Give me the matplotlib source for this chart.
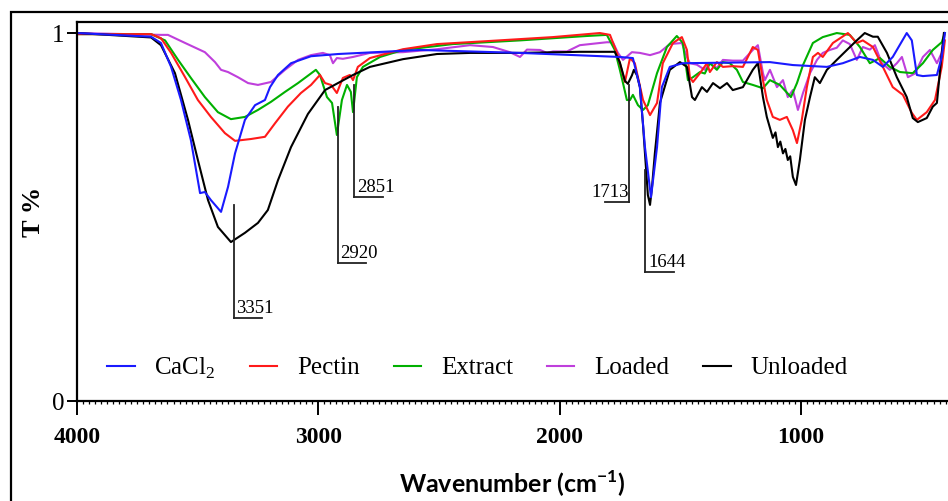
import numpy as np
import matplotlib
matplotlib.use('Agg')
import matplotlib.pyplot as plt
from matplotlib.ticker import MultipleLocator, FixedLocator
from matplotlib.patches import Rectangle

# === FTIR spectra (wavenumber cm-1, transmittance fraction) ===
wn_unloaded = [4000, 3693, 3652, 3594, 3540, 3499, 3457, 3416, 3362, 3304, 3250, 3209, 3167,
               3113, 3043, 2972, 2910, 2856, 2786, 2649, 2508, 2371, 2164, 1916, 1771, 1750,
               1729, 1717, 1700, 1692, 1679, 1667, 1654, 1646, 1634, 1625, 1617, 1605, 1584,
               1543, 1501, 1472, 1451, 1439, 1410, 1389, 1364, 1335, 1306, 1282, 1240, 1199,
               1178, 1157, 1141, 1116, 1105, 1095, 1085, 1074, 1064, 1054, 1044, 1033, 1020,
               1004, 983, 962, 942, 921, 892, 851, 809, 768, 735, 701, 681, 643, 602, 561,
               536, 515, 478, 453, 436, 416, 407]
t_unloaded = [1.0, 0.988, 0.967, 0.891, 0.764, 0.655, 0.546, 0.473, 0.432, 0.457, 0.484, 0.519,
              0.60, 0.69, 0.78, 0.845, 0.867, 0.886, 0.908, 0.929, 0.943, 0.946, 0.946, 0.949,
              0.949, 0.92, 0.87, 0.862, 0.885, 0.90, 0.885, 0.853, 0.75, 0.673, 0.56, 0.533,
              0.58, 0.673, 0.81, 0.90, 0.921, 0.908, 0.826, 0.818, 0.853, 0.84, 0.864, 0.85,
              0.864, 0.845, 0.853, 0.90, 0.918, 0.826, 0.772, 0.715, 0.73, 0.69, 0.705, 0.673,
              0.685, 0.655, 0.665, 0.609, 0.587, 0.655, 0.764, 0.826, 0.88, 0.864, 0.90, 0.927,
              0.954, 0.98, 1.0, 0.99, 0.99, 0.946, 0.88, 0.826, 0.769, 0.758, 0.769, 0.80, 0.81,
              0.946, 1.0]

wn_cacl2 = [4000, 3693, 3652, 3610, 3569, 3528, 3490, 3470, 3445, 3403, 3374, 3345, 3304, 3262,
            3221, 3200, 3167, 3113, 3030, 2918, 2579, 2164, 1750, 1696, 1667, 1646, 1621, 1596,
            1576, 1543, 1489, 1128, 1033, 892, 826, 755, 701, 660, 619, 561, 540, 519, 494,
            436, 416, 403]
t_cacl2 = [1.0, 0.99, 0.973, 0.908, 0.818, 0.709, 0.565, 0.568, 0.546, 0.514, 0.582, 0.673, 0.764,
           0.804, 0.818, 0.853, 0.886, 0.918, 0.937, 0.943, 0.954, 0.946, 0.935, 0.932, 0.853,
           0.69, 0.554, 0.69, 0.853, 0.908, 0.918, 0.921, 0.913, 0.908, 0.918, 0.935, 0.927,
           0.908, 0.935, 1.0, 0.98, 0.886, 0.883, 0.886, 0.935, 1.0]

wn_pectin = [4000, 3693, 3652, 3610, 3552, 3499, 3445, 3387, 3345, 3279, 3221, 3179, 3126, 3072,
             3030, 2993, 2972, 2947, 2923, 2898, 2869, 2856, 2836, 2786, 2649, 2508, 2301, 2027,
             1833, 1791, 1762, 1750, 1729, 1708, 1688, 1654, 1625, 1596, 1572, 1530, 1493, 1472,
             1460, 1447, 1418, 1389, 1377, 1348, 1323, 1282, 1240, 1199, 1178, 1157, 1141, 1116,
             1087, 1058, 1033, 1016, 996, 975, 950, 929, 909, 867, 830, 805, 768, 743, 701, 660,
             619, 577, 540, 519, 478, 444, 416, 403]
t_pectin = [0.997, 0.997, 0.986, 0.946, 0.88, 0.818, 0.772, 0.728, 0.707, 0.712, 0.718, 0.755, 0.80,
            0.837, 0.859, 0.886, 0.864, 0.859, 0.837, 0.878, 0.886, 0.872, 0.908, 0.932, 0.956,
            0.970, 0.978, 0.989, 1.0, 0.995, 0.946, 0.918, 0.867, 0.932, 0.918, 0.818, 0.777,
            0.81, 0.918, 0.973, 0.989, 0.954, 0.88, 0.867, 0.891, 0.918, 0.894, 0.921, 0.908,
            0.91, 0.908, 0.962, 0.954, 0.872, 0.818, 0.772, 0.764, 0.772, 0.736, 0.701, 0.764,
            0.853, 0.935, 0.946, 0.935, 0.973, 0.989, 1.0, 0.973, 0.98, 0.962, 0.908, 0.853,
            0.832, 0.783, 0.764, 0.785, 0.818, 0.908, 0.98]

wn_extract = [4000, 3693, 3635, 3581, 3528, 3470, 3416, 3362, 3304, 3250, 3196, 3138, 3084, 3010,
              2993, 2964, 2943, 2923, 2902, 2881, 2865, 2856, 2840, 2815, 2744, 2649, 2442, 2164,
              1887, 1804, 1771, 1750, 1737, 1721, 1708, 1696, 1675, 1654, 1634, 1596, 1555, 1514,
              1489, 1468, 1447, 1418, 1398, 1377, 1348, 1323, 1294, 1265, 1240, 1199, 1157, 1128,
              1087, 1041, 1016, 991, 950, 909, 851, 797, 755, 714, 672, 631, 589, 536, 494, 453,
              416, 403]
t_extract = [0.997, 0.997, 0.98, 0.927, 0.878, 0.826, 0.785, 0.766, 0.772, 0.791, 0.813, 0.84,
             0.864, 0.90, 0.886, 0.826, 0.81, 0.723, 0.818, 0.859, 0.84, 0.785, 0.88, 0.908, 0.935,
             0.954, 0.970, 0.98, 0.992, 0.995, 0.954, 0.90, 0.864, 0.818, 0.818, 0.832, 0.804,
             0.791, 0.804, 0.891, 0.962, 0.992, 0.973, 0.872, 0.88, 0.894, 0.89, 0.918, 0.90,
             0.921, 0.918, 0.90, 0.867, 0.859, 0.85, 0.872, 0.859, 0.826, 0.864, 0.913, 0.973,
             0.989, 1.0, 0.995, 0.962, 0.918, 0.932, 0.908, 0.894, 0.891, 0.918, 0.954, 0.975, 1.0]

wn_loaded = [4000, 3652, 3623, 3552, 3470, 3428, 3403, 3374, 3333, 3291, 3250, 3196, 3138, 3084,
             3030, 2981, 2952, 2939, 2923, 2898, 2856, 2786, 2649, 2508, 2371, 2276, 2206, 2164,
             2135, 2081, 2052, 2027, 1969, 1916, 1804, 1779, 1758, 1737, 1700, 1667, 1625, 1584,
             1543, 1493, 1472, 1460, 1431, 1398, 1377, 1348, 1323, 1282, 1240, 1199, 1178, 1157,
             1149, 1128, 1099, 1074, 1054, 1033, 1012, 991, 962, 933, 909, 880, 851, 826, 797,
             768, 743, 714, 693, 664, 631, 602, 581, 556, 527, 494, 465, 436, 416, 403]
t_loaded = [1.0, 0.995, 0.995, 0.973, 0.948, 0.921, 0.90, 0.894, 0.88, 0.864, 0.859, 0.867, 0.90,
            0.927, 0.940, 0.946, 0.94, 0.918, 0.932, 0.93, 0.935, 0.946, 0.948, 0.956, 0.967,
            0.962, 0.948, 0.935, 0.955, 0.954, 0.946, 0.95, 0.95, 0.967, 0.975, 0.975, 0.946,
            0.927, 0.948, 0.946, 0.940, 0.948, 0.970, 0.973, 0.935, 0.918, 0.914, 0.90, 0.918,
            0.905, 0.927, 0.925, 0.925, 0.954, 0.967, 0.891, 0.872, 0.90, 0.853, 0.872, 0.826,
            0.845, 0.791, 0.837, 0.891, 0.927, 0.946, 0.954, 0.96, 0.98, 0.97, 0.927, 0.962,
            0.955, 0.967, 0.918, 0.90, 0.918, 0.935, 0.88, 0.89, 0.935, 0.954, 0.918, 0.946, 1.0]

# === Peak annotations: (wavenumber, line top, line bottom, side) ===
peak_wn = [3351, 2920, 2851, 1713, 1644]
peak_top = [0.533, 0.799, 0.859, 0.859, 0.628]
peak_bottom = [0.2255, 0.375, 0.554, 0.541, 0.351]
peak_side = ['right', 'right', 'right', 'left', 'right']

serif = 'Liberation Serif'
plt.rcParams['mathtext.fontset'] = 'custom'
plt.rcParams['mathtext.rm'] = serif

fig = plt.figure(figsize=(9.48, 5.01), dpi=100)
ax = fig.add_axes([77 / 948, 1 - 401 / 501, 871 / 948, 379 / 501])

lw = 1.5
l_load, = ax.plot(wn_loaded, t_loaded, color='#bf3fdc', lw=lw)
l_ext, = ax.plot(wn_extract, t_extract, color='#00b000', lw=lw)
l_pec, = ax.plot(wn_pectin, t_pectin, color='#ff1a1a', lw=lw)
l_unl, = ax.plot(wn_unloaded, t_unloaded, color='black', lw=lw)
l_cac, = ax.plot(wn_cacl2, t_cacl2, color='#1a1aff', lw=lw)

# peak markers: vertical drop line with an underline next to the label
ulen = 118
for wn, top, bot, side in zip(peak_wn, peak_top, peak_bottom, peak_side):
    ax.plot([wn, wn], [top, bot], color='#222222', lw=1.3)
    if side == 'right':
        ax.plot([wn, wn - ulen], [bot, bot], color='#222222', lw=1.3)
        ax.text(wn - 12, bot + 0.003, str(wn), ha='left', va='bottom',
                family=serif, fontsize=13.5)
    else:
        ax.plot([wn, wn + ulen * 0.85], [bot, bot], color='#222222', lw=1.3)
        ax.text(wn, bot + 0.003, str(wn), ha='right', va='bottom',
                family=serif, fontsize=13.5)

ax.set_xlim(4000, 390)
ax.set_ylim(0, 1.03)
ax.xaxis.set_major_locator(FixedLocator([4000, 3000, 2000, 1000]))
ax.xaxis.set_minor_locator(MultipleLocator(25))
ax.yaxis.set_major_locator(FixedLocator([0, 1]))
ax.set_xticklabels(['4000', '3000', '2000', '1000'], family=serif, fontweight='bold', fontsize=17)
ax.set_yticklabels(['0', '1'], family=serif, fontsize=18)
ax.tick_params(axis='x', which='major', direction='out', length=10, width=1.4, pad=9)
ax.tick_params(axis='x', which='minor', direction='out', length=2.5, width=0.9)
ax.tick_params(axis='y', which='major', direction='out', length=7, width=1.4, pad=2)

for s in ['top', 'left', 'bottom']:
    ax.spines[s].set_linewidth(1.6)
ax.spines['right'].set_visible(False)

ax.set_ylabel('T %', family=serif, fontweight='bold', fontsize=19, labelpad=5)
ax.set_xlabel('Wavenumber (cm$^{\\mathregular{-1}}$)', family='Lato', fontweight='bold',
              fontsize=18, labelpad=15)

ax.legend([l_cac, l_pec, l_ext, l_load, l_unl],
          ['CaCl$_\\mathregular{2}$', 'Pectin', 'Extract', 'Loaded', 'Unloaded'],
          loc='center left', bbox_to_anchor=(30 / 871, 33 / 379), ncol=5, frameon=False,
          prop={'family': serif, 'size': 18}, handlelength=1.1, handletextpad=0.8,
          columnspacing=1.35, borderpad=0, borderaxespad=0)

# outer frame around the panel
fig.add_artist(Rectangle((11 / 948, -0.5), 1.2, 1.5 - 12 / 501, transform=fig.transFigure,
                         fill=False, lw=1.6, edgecolor='black'))

fig.savefig('out.png', dpi=100)
